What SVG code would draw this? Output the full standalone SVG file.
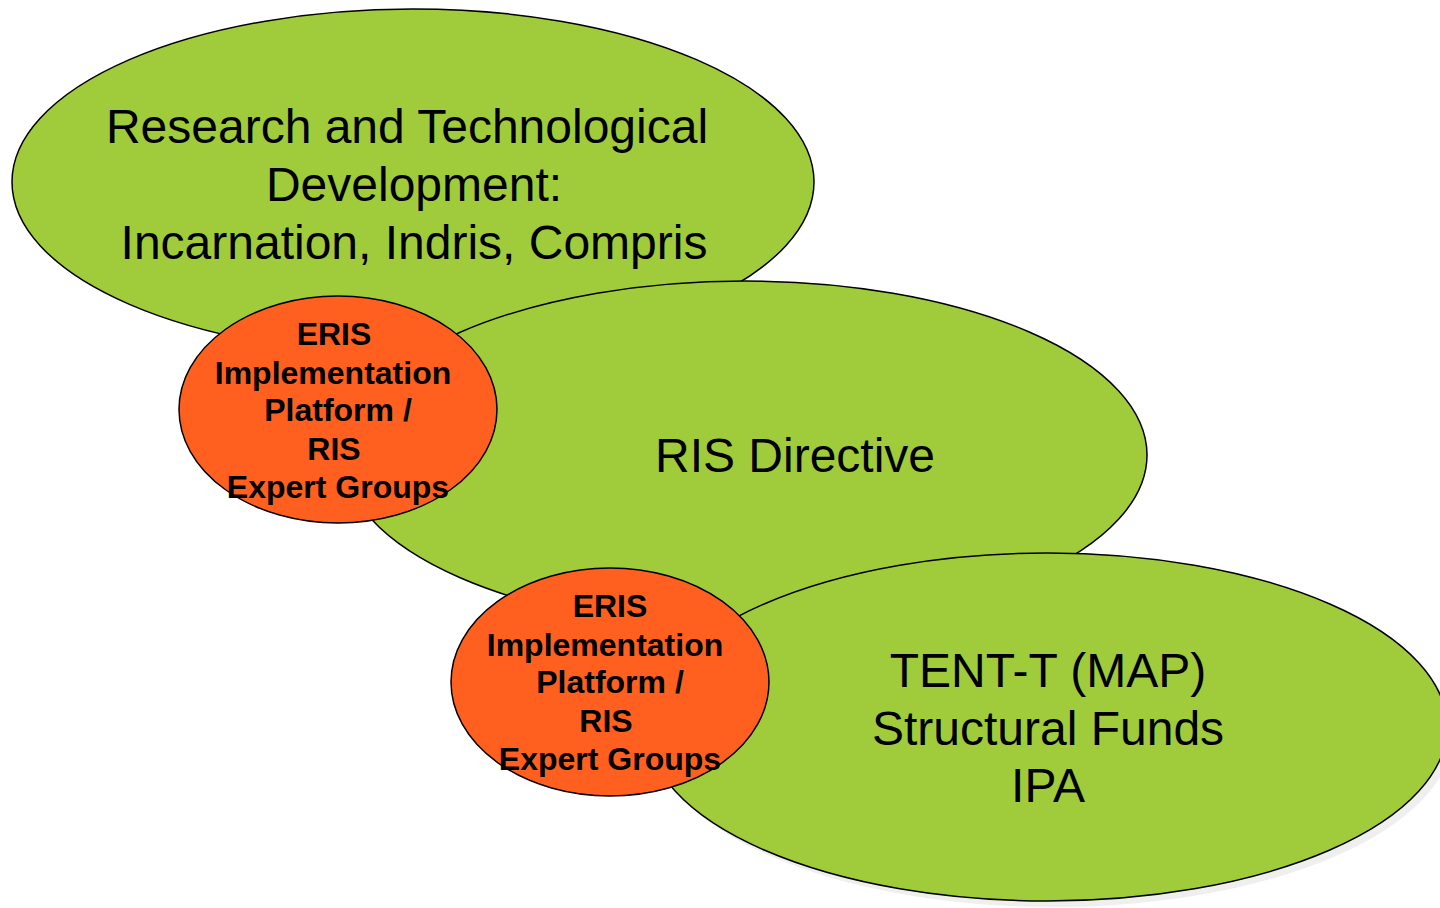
<svg xmlns="http://www.w3.org/2000/svg" width="1440" height="908" viewBox="0 0 1440 908">
<style>
.green{fill:#a0cc3c;stroke:#000;stroke-width:1.5}
.orange{fill:#ff5f1f;stroke:#000;stroke-width:1.5}
.shadow{fill:#efefef;stroke:none}
.big{font-family:"Liberation Sans",Arial,sans-serif;font-size:48px;fill:#000;text-anchor:middle}
.small{font-family:"Liberation Sans",Arial,sans-serif;font-size:32px;font-weight:bold;fill:#000;text-anchor:middle}
</style>
<rect width="1440" height="908" fill="#fff"/>
<g id="rtd">
<ellipse class="green" cx="413" cy="182" rx="401" ry="173"/>
<text class="big"><tspan x="407" y="143">Research and Technological</tspan><tspan x="414" y="201">Development:</tspan><tspan x="414" y="259">Incarnation, Indris, Compris</tspan></text>
</g>
<g id="ris-directive">
<ellipse class="green" cx="745" cy="455" rx="402" ry="174"/>
<text class="big" x="795" y="472">RIS Directive</text>
</g>
<g id="tent-t">
<ellipse class="shadow" cx="1053" cy="733" rx="400" ry="174"/>
<ellipse class="green" cx="1047" cy="727" rx="400" ry="174"/>
<text class="big"><tspan x="1048" y="687">TENT-T (MAP)</tspan><tspan x="1048" y="745">Structural Funds</tspan><tspan x="1048" y="802">IPA</tspan></text>
</g>
<g id="eris1">
<ellipse class="orange" cx="338" cy="409.5" rx="159" ry="113.5"/>
<text class="small"><tspan x="334" y="345">ERIS</tspan><tspan x="333" y="384">Implementation</tspan><tspan x="338" y="421">Platform /</tspan><tspan x="334" y="460">RIS</tspan><tspan x="338" y="498">Expert Groups</tspan></text>
</g>
<g id="eris2">
<ellipse class="orange" cx="610" cy="682" rx="159" ry="114"/>
<text class="small"><tspan x="610" y="617">ERIS</tspan><tspan x="605" y="656">Implementation</tspan><tspan x="610" y="693">Platform /</tspan><tspan x="606" y="732">RIS</tspan><tspan x="610" y="770">Expert Groups</tspan></text>
</g>
<g id="connectors"/>
</svg>
